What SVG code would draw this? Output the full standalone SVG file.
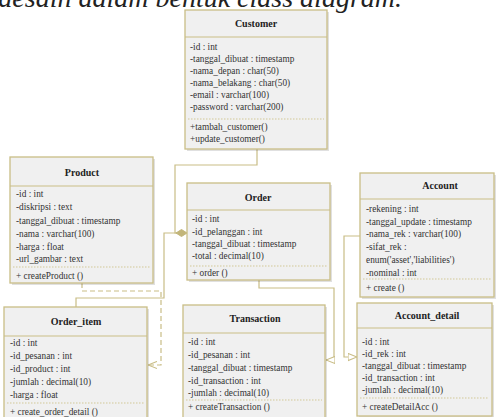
<svg xmlns="http://www.w3.org/2000/svg" width="497" height="417" viewBox="0 0 497 417">
<style>
.box{fill:#f0f0f0;stroke:#c9bd86;stroke-width:1.3}
.shadow{fill:#000;opacity:0.12}
.hl{stroke:#c9bd86;stroke-width:1.2}
.sep{stroke:#d2c897;stroke-width:1;stroke-dasharray:1.5 1.5}
.title{font-family:"Liberation Serif",serif;font-weight:bold;font-size:10px;fill:#222;text-anchor:middle}
.t{font-family:"Liberation Serif",serif;font-size:9.3px;fill:#333}
.c{fill:none;stroke:#c9bd86;stroke-width:1.2}
.d{fill:none;stroke:#c9bd86;stroke-width:1.2;stroke-dasharray:5 3}
</style>
<defs>
<marker id="tri" viewBox="0 0 10 10" refX="10" refY="5" markerWidth="9" markerHeight="9" markerUnits="userSpaceOnUse" orient="auto">
<path d="M0,1 L10,5 L0,9 Z" fill="#fff" stroke="#c9bd86" stroke-width="1.2"/>
</marker>
<marker id="open" viewBox="0 0 10 10" refX="10" refY="5" markerWidth="9" markerHeight="9" markerUnits="userSpaceOnUse" orient="auto">
<path d="M0,1 L10,5 L0,9" fill="none" stroke="#c9bd86" stroke-width="1.2"/>
</marker>
</defs>
<text x="402" y="7" font-family="Liberation Serif,serif" font-style="italic" font-size="28" fill="#222" text-anchor="end">desain dalam bentuk class diagram.</text>

<g id="connectors">
<polyline class="c" points="257,149 257,165 175,165 175,233 177,233"/>
<polyline class="c" points="76,307 76,298 164,298 164,233 177,233"/>
<polygon points="176,233 181.5,229.5 187,233 181.5,236.5" fill="#c2b57a" stroke="#c2b57a"/>
<polyline class="d" points="82,283 82,291 161,291 161,365 148,365" marker-end="url(#open)"/>
<polyline class="c" points="259,280 259,288 334,288 334,360 326,360" marker-end="url(#tri)"/>
<polyline class="c" points="360,236 344,236 344,357 357,357" marker-end="url(#tri)"/>
</g>

<g id="customer">
<rect class="shadow" x="187" y="12" width="142" height="139"/>
<rect class="box" x="185" y="10" width="142" height="139"/>
<line class="hl" x1="185" y1="37" x2="327" y2="37"/>
<line class="sep" x1="188" y1="119" x2="324" y2="119"/>
<text class="title" x="256" y="27">Customer</text>
<text class="t" x="190" y="50">-id : int</text>
<text class="t" x="190" y="62">-tanggal_dibuat : timestamp</text>
<text class="t" x="190" y="74">-nama_depan : char(50)</text>
<text class="t" x="190" y="86">-nama_belakang : char(50)</text>
<text class="t" x="190" y="98">-email : varchar(100)</text>
<text class="t" x="190" y="110">-password : varchar(200)</text>
<text class="t" x="190" y="130">+tambah_customer()</text>
<text class="t" x="190" y="142">+update_customer()</text>
</g>

<g id="product">
<rect class="shadow" x="12" y="159" width="143" height="126"/>
<rect class="box" x="10" y="157" width="143" height="126"/>
<line class="hl" x1="10" y1="186" x2="153" y2="186"/>
<line class="sep" x1="13" y1="267" x2="150" y2="267"/>
<text class="title" x="82" y="176">Product</text>
<text class="t" x="16" y="197">-id : int</text>
<text class="t" x="16" y="210">-diskripsi : text</text>
<text class="t" x="16" y="224">-tanggal_dibuat : timestamp</text>
<text class="t" x="16" y="237">-nama : varchar(100)</text>
<text class="t" x="16" y="250">-harga : float</text>
<text class="t" x="16" y="262">-url_gambar : text</text>
<text class="t" x="16" y="279">+ createProduct ()</text>
</g>

<g id="order">
<rect class="shadow" x="189" y="185" width="143" height="97"/>
<rect class="box" x="187" y="183" width="143" height="97"/>
<line class="hl" x1="187" y1="210" x2="330" y2="210"/>
<line class="sep" x1="190" y1="266" x2="327" y2="266"/>
<text class="title" x="258" y="201">Order</text>
<text class="t" x="192" y="222">-id : int</text>
<text class="t" x="192" y="235">-id_pelanggan : int</text>
<text class="t" x="192" y="247">-tanggal_dibuat : timestamp</text>
<text class="t" x="192" y="259">-total : decimal(10)</text>
<text class="t" x="192" y="276">+ order ()</text>
</g>

<g id="account">
<rect class="shadow" x="362" y="175" width="134" height="124"/>
<rect class="box" x="360" y="173" width="134" height="124"/>
<line class="hl" x1="360" y1="199" x2="494" y2="199"/>
<line class="sep" x1="363" y1="279" x2="491" y2="279"/>
<text class="title" x="440" y="189">Account</text>
<text class="t" x="366" y="212">-rekening : int</text>
<text class="t" x="366" y="225">-tanggal_update : timestamp</text>
<text class="t" x="366" y="237">-nama_rek : varchar(100)</text>
<text class="t" x="366" y="250">-sifat_rek :</text>
<text class="t" x="366" y="263">enum('asset','liabilities')</text>
<text class="t" x="366" y="276">-nominal : int</text>
<text class="t" x="366" y="291">+ create ()</text>
</g>

<g id="order_item">
<rect class="shadow" x="6" y="309" width="143" height="115"/>
<rect class="box" x="4" y="307" width="143" height="115"/>
<line class="hl" x1="4" y1="336" x2="147" y2="336"/>
<line class="sep" x1="7" y1="403" x2="144" y2="403"/>
<text class="title" x="76" y="325">Order_item</text>
<text class="t" x="10" y="346">-id : int</text>
<text class="t" x="10" y="359">-id_pesanan : int</text>
<text class="t" x="10" y="372">-id_product : int</text>
<text class="t" x="10" y="385">-jumlah : decimal(10)</text>
<text class="t" x="10" y="398">-harga : float</text>
<text class="t" x="10" y="415">+ create_order_detail ()</text>
</g>

<g id="transaction">
<rect class="shadow" x="185" y="307" width="142" height="115"/>
<rect class="box" x="183" y="305" width="142" height="115"/>
<line class="hl" x1="183" y1="333" x2="325" y2="333"/>
<line class="sep" x1="186" y1="400" x2="322" y2="400"/>
<text class="title" x="255" y="322">Transaction</text>
<text class="t" x="188" y="345">-id : int</text>
<text class="t" x="188" y="358">-id_pesanan : int</text>
<text class="t" x="188" y="371">-tanggal_dibuat : timestamp</text>
<text class="t" x="188" y="384">-id_transaction : int</text>
<text class="t" x="188" y="396">-jumlah : decimal(10)</text>
<text class="t" x="188" y="410">+ createTransaction ()</text>
</g>

<g id="account_detail">
<rect class="shadow" x="359" y="305" width="135" height="113"/>
<rect class="box" x="357" y="303" width="135" height="113"/>
<line class="hl" x1="357" y1="328" x2="492" y2="328"/>
<line class="sep" x1="360" y1="398" x2="489" y2="398"/>
<text class="title" x="427" y="319">Account_detail</text>
<text class="t" x="362" y="345">-id : int</text>
<text class="t" x="362" y="357">-id_rek : int</text>
<text class="t" x="362" y="369">-tanggal_dibuat : timestamp</text>
<text class="t" x="362" y="381">-id_transaction : int</text>
<text class="t" x="362" y="393">-jumlah : decimal(10)</text>
<text class="t" x="362" y="410">+ createDetailAcc ()</text>
</g>
</svg>
